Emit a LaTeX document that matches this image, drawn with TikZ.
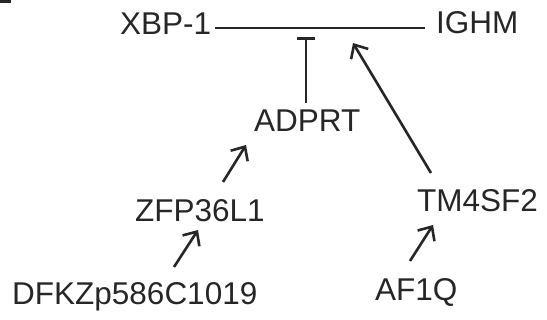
\documentclass[tikz,border=0pt]{standalone}
\usepackage{fontspec}
\setmainfont{Liberation Sans}
\usetikzlibrary{arrows.meta}
\begin{document}
\begin{tikzpicture}[x=1pt,y=-1pt,
  gene/.style={anchor=base west,inner sep=0pt,font=\fontsize{31.5}{38}\selectfont,text=black!85},
  conn/.style={line width=2.6pt,draw=black!85},
  act/.style={conn,-{Straight Barb[length=11pt,width=20pt,line width=2.6pt]}},
  inh/.style={conn,-{Bar[width=18pt,line width=2.6pt]}}]
\useasboundingbox (0,0) rectangle (547,320);
\fill[black!85] (0,0) rectangle (11,3);
\node[gene] (xbp) at (120,35) {XBP-1};
\node[gene] (ighm) at (436,34) {IGHM};
\node[gene] (adprt) at (254,132) {ADPRT};
\node[gene] (zfp) at (135,222) {ZFP36L1};
\node[gene] (tm4) at (417,212) {TM4SF2};
\node[gene] (dfkz) at (12,305) {DFKZp586C1019};
\node[gene] (af1q) at (375,301) {AF1Q};
% interaction line
\coordinate (l1) at (215,28);
\coordinate (l2) at (425,28);
\draw[conn] (l1) -- (l2);
% inhibition ADPRT -| line
\coordinate (inhS) at (306,103);
\coordinate (inhE) at (306,37);
\draw[inh] (inhS) -- (inhE);
% TM4SF2 -> line
\coordinate (tmS) at (431,173);
\coordinate (tmE) at (353,43);
\draw[act] (tmS) -- (tmE);
% ZFP36L1 -> ADPRT
\coordinate (zaS) at (223,182);
\coordinate (zaE) at (246,145);
\draw[act] (zaS) -- (zaE);
% DFKZ -> ZFP36L1
\coordinate (dzS) at (174,267);
\coordinate (dzE) at (198,230);
\draw[act] (dzS) -- (dzE);
% AF1Q -> TM4SF2
\coordinate (atS) at (410,261);
\coordinate (atE) at (433,225);
\draw[act] (atS) -- (atE);
\end{tikzpicture}
\end{document}
